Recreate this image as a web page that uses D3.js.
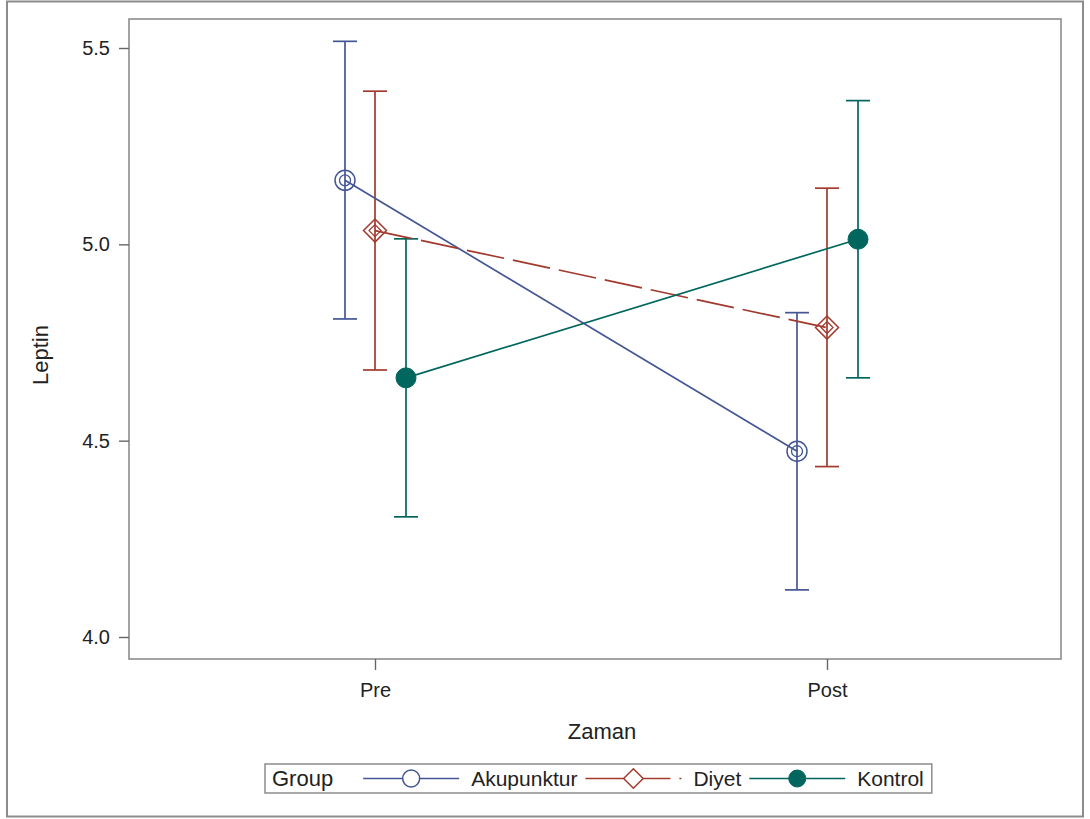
<!DOCTYPE html>
<html>
<head>
<meta charset="utf-8">
<script src="https://cdn.jsdelivr.net/npm/d3@7"></script>
<style>
  body { margin: 0; background: #fff; }
  text { font-family: "Liberation Sans", Arial, sans-serif; fill: #222; }
</style>
</head>
<body>
<div id="chart"></div>
<script>
// data
const times = ["Pre", "Post"];
const groups = ["Akupunktur", "Diyet", "Kontrol"];
const yTicks = [4.0, 4.5, 5.0, 5.5];

const akupunkturMean = [5.163, 4.473];
const akupunkturLower = [4.81, 4.12];
const akupunkturUpper = [5.517, 4.826];

const diyetMean = [5.035, 4.788];
const diyetLower = [4.68, 4.434];
const diyetUpper = [5.39, 5.143];

const kontrolMean = [4.66, 5.013];
const kontrolLower = [4.306, 4.66];
const kontrolUpper = [5.014, 5.366];

const width = 1090, height = 819;
const plot = {left: 129, right: 1061, top: 19, bottom: 659};

const colors = ["#445694", "#A23A2E", "#01665E"];
const dashes = [null, "38,9", null];
const offsets = [-30, 0, 31];

const series = groups.map((g, i) => ({
  name: g,
  mean: [akupunkturMean, diyetMean, kontrolMean][i],
  lower: [akupunkturLower, diyetLower, kontrolLower][i],
  upper: [akupunkturUpper, diyetUpper, kontrolUpper][i],
  color: colors[i],
  dash: dashes[i],
  offset: offsets[i],
  idx: i
}));

const svg = d3.select("#chart").append("svg")
  .attr("width", width)
  .attr("height", height);

// outer border
svg.append("rect")
  .attr("x", 7).attr("y", 1.5)
  .attr("width", 1076).attr("height", 815)
  .attr("fill", "none")
  .attr("stroke", "#8c8c8c")
  .attr("stroke-width", 2);

// scales
let x = d3.scalePoint()
  .domain(times)
  .range([375, 827]);
let y = d3.scaleLinear()
  .domain([4.0, 5.5])
  .range([637, 48]);

// plot frame
svg.append("rect")
  .attr("x", plot.left).attr("y", plot.top)
  .attr("width", plot.right - plot.left).attr("height", plot.bottom - plot.top)
  .attr("fill", "none")
  .attr("stroke", "#8c8c8c")
  .attr("stroke-width", 1.6);

// axes
let yAxis = svg.append("g")
  .attr("transform", `translate(${plot.left},0)`)
  .call(d3.axisLeft(y).tickValues(yTicks).tickFormat(d3.format(".1f")).tickSize(10).tickPadding(9));
yAxis.select(".domain").remove();
yAxis.selectAll("line").attr("stroke", "#666").attr("stroke-width", 1.4);
yAxis.selectAll("text").style("font-size", "20px").attr("fill", "#222")
  .style("font-family", "'Liberation Sans', Arial, sans-serif");

let xAxis = svg.append("g")
  .attr("transform", `translate(0,${plot.bottom})`)
  .call(d3.axisBottom(x).tickSize(11).tickPadding(13));
xAxis.select(".domain").remove();
xAxis.selectAll("line").attr("stroke", "#666").attr("stroke-width", 1.4);
xAxis.selectAll("text").style("font-size", "20px").attr("fill", "#222")
  .style("font-family", "'Liberation Sans', Arial, sans-serif");

// axis labels
svg.append("text")
  .attr("transform", "translate(48,355) rotate(-90)")
  .attr("text-anchor", "middle")
  .style("font-size", "22px")
  .text("Leptin");

svg.append("text")
  .attr("x", 602).attr("y", 739)
  .attr("text-anchor", "middle")
  .style("font-size", "22px")
  .text("Zaman");

const px = (s, j) => x(times[j]) + s.offset;

// error bars
series.forEach(s => {
  let g = svg.append("g").attr("stroke", s.color).attr("stroke-width", 1.7);
  times.forEach((t, j) => {
    g.append("line")
      .attr("x1", px(s, j)).attr("x2", px(s, j))
      .attr("y1", y(s.lower[j])).attr("y2", y(s.upper[j]));
    [s.lower[j], s.upper[j]].forEach(v => {
      g.append("line")
        .attr("x1", px(s, j) - 12).attr("x2", px(s, j) + 12)
        .attr("y1", y(v)).attr("y2", y(v));
    });
  });
});

// mean lines
let line = d3.line()
  .x(d => d.x)
  .y(d => d.y);

series.forEach(s => {
  svg.append("path")
    .datum(times.map((t, j) => ({x: px(s, j), y: y(s.mean[j])})))
    .attr("d", line)
    .attr("fill", "none")
    .attr("stroke", s.color)
    .attr("stroke-width", 1.7)
    .attr("stroke-dasharray", s.dash);
});

// markers
function drawMarker(g, s, cx, cy, scale, inner) {
  if (s.idx === 0) {
    g.append("circle").attr("cx", cx).attr("cy", cy).attr("r", 10 * scale)
      .attr("fill", inner ? "none" : "#fff").attr("stroke", s.color).attr("stroke-width", 1.5);
    if (inner) g.append("circle").attr("cx", cx).attr("cy", cy).attr("r", 5.5)
      .attr("fill", "none").attr("stroke", s.color).attr("stroke-width", 1.3);
  } else if (s.idx === 1) {
    let r = 11.5 * scale;
    g.append("path")
      .attr("d", `M${cx},${cy - r}L${cx + r},${cy}L${cx},${cy + r}L${cx - r},${cy}Z`)
      .attr("fill", inner ? "none" : "#fff").attr("stroke", s.color).attr("stroke-width", 1.5);
    if (inner) {
      let r2 = 6;
      g.append("path")
        .attr("d", `M${cx},${cy - r2}L${cx + r2},${cy}L${cx},${cy + r2}L${cx - r2},${cy}Z`)
        .attr("fill", "none").attr("stroke", s.color).attr("stroke-width", 1.3);
    }
  } else {
    g.append("circle").attr("cx", cx).attr("cy", cy).attr("r", 10 * scale)
      .attr("fill", s.color).attr("stroke", s.color).attr("stroke-width", 1);
  }
}

series.forEach(s => {
  let g = svg.append("g");
  times.forEach((t, j) => drawMarker(g, s, px(s, j), y(s.mean[j]), 1, true));
});

// legend
let legend = svg.append("g");
let legendBox = legend.append("rect")
  .attr("y", 764).attr("height", 29)
  .attr("fill", "#fff")
  .attr("stroke", "#8c8c8c")
  .attr("stroke-width", 1.5);

let lx = 272, ly = 778.5;
let title = legend.append("text")
  .attr("x", lx).attr("y", ly)
  .attr("dy", "0.36em")
  .style("font-size", "22px")
  .text("Group");
lx += title.node().getComputedTextLength() + 30;

series.forEach(s => {
  legend.append("line")
    .attr("x1", lx).attr("x2", lx + 96)
    .attr("y1", ly).attr("y2", ly)
    .attr("stroke", s.color)
    .attr("stroke-width", 1.7)
    .attr("stroke-dasharray", s.dash);
  drawMarker(legend, s, lx + 48, ly, 0.85, false);
  let t = legend.append("text")
    .attr("x", lx + 108).attr("y", ly)
    .attr("dy", "0.36em")
    .style("font-size", "21px")
    .text(s.name);
  lx += 108 + t.node().getComputedTextLength() + 8;
});

legendBox.attr("x", 265).attr("width", lx - 265);
</script>
</body>
</html>
